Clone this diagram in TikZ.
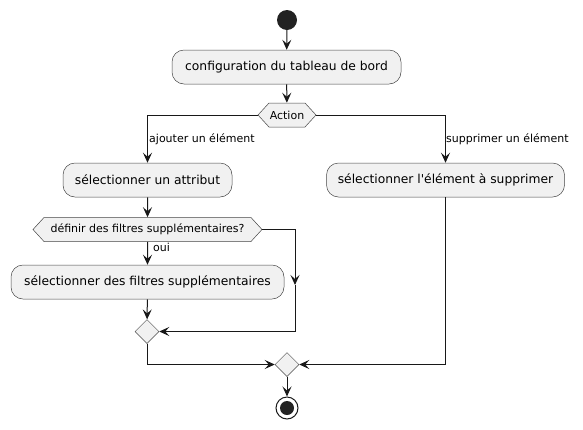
\documentclass[tikz,border=0pt]{standalone}
\usepackage{fontspec}
\setmainfont{DejaVu Sans}
\usetikzlibrary{shapes.geometric,shapes.symbols,arrows.meta}
\definecolor{boxfill}{HTML}{F1F1F1}
\definecolor{linec}{HTML}{181818}
\definecolor{dotc}{HTML}{222222}
\tikzset{
  actbox/.style={draw=linec!80, line width=0.5pt, fill=boxfill, rounded corners=12pt,
    minimum height=34pt, inner xsep=0pt, font=\fontsize{12.3}{14}\selectfont},
  hexa/.style={shape=signal, signal to=west and east, signal pointer angle=95,
    draw=linec!80, line width=0.5pt, fill=boxfill, minimum height=24pt, inner xsep=0pt,
    font=\fontsize{11}{13}\selectfont},
  mergedia/.style={shape=diamond, draw=linec!80, line width=0.5pt, fill=boxfill,
    minimum size=24pt, inner sep=0pt},
  conn/.style={draw=linec, line width=1pt},
  arr/.style={conn, -{Stealth[length=10pt,width=9pt,inset=4pt]}},
  lbl/.style={font=\fontsize{11}{13}\selectfont, inner sep=0pt, anchor=west}
}
\begin{document}
\begin{tikzpicture}[x=1pt,y=-1pt]
\useasboundingbox (0,0) rectangle (583,429);
\node[circle, fill=dotc, minimum size=20pt, inner sep=0pt] (start) at (287,20) {};
\node[actbox, minimum width=229pt] (b1) at (286.5,67) {configuration du tableau de bord};
\node[hexa, minimum width=58pt] (h1) at (287,115) {Action};
\node[actbox, minimum width=169pt] (b2) at (147.5,180) {sélectionner un attribut};
\node[actbox, minimum width=238pt] (b4) at (445.5,180) {sélectionner l\textquotesingle élément à supprimer};
\node[hexa, minimum width=229pt] (h2) at (147.5,229.5) {définir des filtres supplémentaires?};
\node[actbox, minimum width=273pt] (b3) at (147.5,282) {sélectionner des filtres supplémentaires};
\node[mergedia] (d1) at (147,331.5) {};
\node[mergedia] (d2) at (287,364.5) {};
\node[circle, draw=linec, line width=1pt, minimum size=22pt, inner sep=0pt] (stop) at (287,408) {};
\node[circle, fill=dotc, minimum size=14pt, inner sep=0pt] (stopdot) at (287,408) {};

\coordinate (c1) at (295,229.5);
\coordinate (c2) at (295,285);
\coordinate (c3) at (295,331.5);

\draw[arr] (start) -- (b1);
\draw[arr] (b1) -- (h1);
\draw[arr] (h1.west) -| (b2.north);
\draw[arr] (h1.east) -| (b4.north);
\draw[arr] (b2) -- (h2);
\draw[arr] (h2) -- (b3);
\draw[arr] (h2.east) -- (c1) -- (c2);
\draw[conn] (c2) -- (c3);
\draw[arr] (c3) -- (d1.east);
\draw[arr] (b3) -- (d1);
\draw[arr] (d1.south) |- (d2.west);
\draw[arr] (b4.south) |- (d2.east);
\draw[arr] (d2) -- (stop);

\node[lbl] (l1) at (149,139) {ajouter un élément};
\node[lbl] (l2) at (446,139) {supprimer un élément};
\node[lbl] (l3) at (153,247) {oui};
\end{tikzpicture}
\end{document}
